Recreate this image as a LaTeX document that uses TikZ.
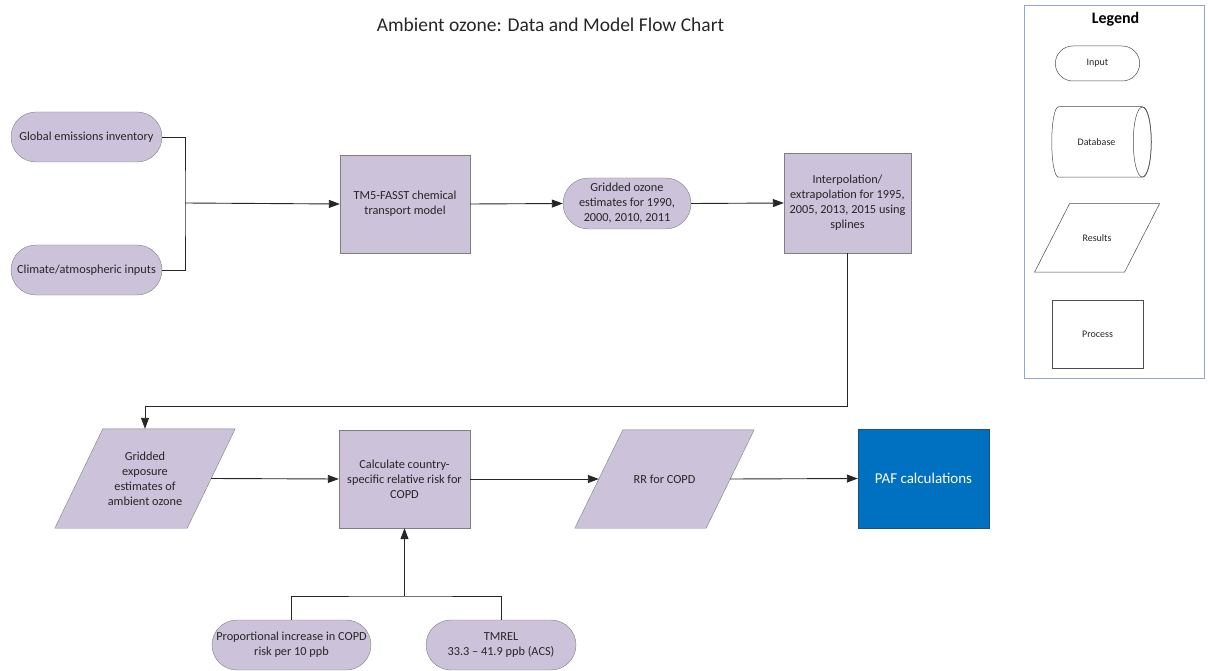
\documentclass[tikz,border=0pt]{standalone}
\usepackage{fontspec}
\setmainfont{Carlito}
\usepackage{xcolor}
\usepackage{tikz}
\usetikzlibrary{arrows.meta, shapes.misc, backgrounds}

\definecolor{lav}{HTML}{CCC2DA}
\definecolor{edge}{HTML}{7F7F7F}
\definecolor{txt}{HTML}{262626}
\definecolor{pafblue}{HTML}{0070C0}
\definecolor{pafedge}{HTML}{1F4E79}
\definecolor{legedge}{HTML}{8FA8C4}

\tikzset{
  box/.style={draw=edge, fill=lav, text=txt, align=center, inner sep=1pt, font=\fontsize{12.3}{15}\selectfont},
  inputbox/.style={box, rounded rectangle},
  procbox/.style={box, rectangle},
  restext/.style={text=txt, align=center, inner sep=1pt, font=\fontsize{12.3}{15}\selectfont},
  resshape/.style={draw=edge, fill=lav},
  legbox/.style={draw=black!70, fill=white, text=txt, line width=0.5pt, font=\fontsize{10}{12}\selectfont},
  legshape/.style={draw=black!70, fill=white, line width=0.5pt},
  flow/.style={draw=black!85, line width=0.9pt},
  arrow/.style={flow, -{Triangle[length=11pt, width=8pt]}}
}

\begin{document}
\begin{tikzpicture}[x=1pt, y=-1pt]
\useasboundingbox (0,0) rectangle (1208,671);

\node [font=\fontsize{19.5}{22}\selectfont, text=txt] (title) at (550.5,25) {Ambient ozone: Data and Model Flow Chart};

\node [inputbox, minimum width=153pt, minimum height=50pt] (glob) at (86.5,137) {Global emissions inventory};
\node [inputbox, minimum width=153pt, minimum height=50pt] (clim) at (86.5,270) {Climate/atmospheric inputs};
\node [procbox, minimum width=130pt, minimum height=98pt] (tm5) at (405,204) {TM5-FASST chemical\\transport model};
\node [inputbox, minimum width=130pt, minimum height=51pt] (ozone) at (627,203.5) {Gridded ozone\\estimates for 1990,\\2000, 2010, 2011};
\node [procbox, minimum width=127pt, minimum height=100pt] (interp) at (847.5,203) {Interpolation/\\extrapolation for 1995,\\2005, 2013, 2015 using\\splines};

\node [restext, minimum width=132pt, minimum height=99pt] (expo) at (145,478.5) {Gridded\\exposure\\estimates of\\ambient ozone};
\node [procbox, minimum width=131pt, minimum height=98pt] (calc) at (404.5,479) {Calculate country-\\specific relative risk for\\COPD};
\node [restext, minimum width=131pt, minimum height=98pt] (rr) at (664.5,479) {RR for COPD};
\node [procbox, draw=pafedge, fill=pafblue, text=white, font=\fontsize{15}{18}\selectfont, minimum width=131pt, minimum height=99pt] (paf) at (923.5,478.5) {PAF calculations};

\node [inputbox, minimum width=161pt, minimum height=50pt] (prop) at (291.5,645) {Proportional increase in COPD\\risk per 10 ppb};
\node [inputbox, minimum width=152pt, minimum height=50pt] (tmrel) at (501,645) {TMREL\\33.3 -- 41.9 ppb (ACS)};

\begin{scope}[on background layer]
\draw [resshape] ([xshift=24pt]expo.north west) -- ([xshift=24pt]expo.north east) -- ([xshift=-24pt]expo.south east) -- ([xshift=-24pt]expo.south west) -- cycle;
\draw [resshape] ([xshift=24pt]rr.north west) -- ([xshift=24pt]rr.north east) -- ([xshift=-24pt]rr.south east) -- ([xshift=-24pt]rr.south west) -- cycle;
\end{scope}

\coordinate (j1) at (185,203);
\coordinate (turn) at (847.5,406);
\coordinate (j2) at (404.5,596);

\draw [flow] (glob.east) -| (j1) |- (clim.east);
\draw [arrow] (j1) -- (tm5.west);
\draw [arrow] (tm5.east) -- (ozone.west);
\draw [arrow] (ozone.east) -- (interp.west);
\draw [arrow] (interp.south) -- (turn) -| (expo.north);
\draw [arrow] (expo.east) -- (calc.west);
\draw [arrow] (calc.east) -- (rr.west);
\draw [arrow] (rr.east) -- (paf.west);
\draw [flow] (prop.north) |- (j2) -| (tmrel.north);
\draw [arrow] (j2) -- (calc.south);

\node [draw=legedge, line width=0.8pt, minimum width=180pt, minimum height=373pt] (legend) at (1114,191.5) {};
\node [font=\fontsize{16}{18}\selectfont\bfseries, text=black] (legtitle) at (1115.5,19) {Legend};
\node [legbox, rounded rectangle, minimum width=91pt, minimum height=35pt] (leginput) at (1097.5,63.5) {Input};
\node [legbox, draw=none, fill=none, minimum width=83pt, minimum height=70pt] (legdb) at (1100.5,142) {Database\hspace*{8pt}};
\node [legbox, draw=none, fill=none, minimum width=89.5pt, minimum height=68pt] (legres) at (1097,238) {Results};
\begin{scope}[on background layer]
\draw [legshape] (legdb.south west) .. controls ([xshift=-9.3pt]legdb.south west) and ([xshift=-9.3pt]legdb.north west) .. (legdb.north west) -- (legdb.north east) .. controls ([xshift=12pt]legdb.north east) and ([xshift=12pt]legdb.south east) .. (legdb.south east) -- cycle;
\draw [legshape, fill=none] (legdb.east) ellipse [x radius=9pt, y radius=35pt];
\draw [legshape] ([xshift=17.5pt]legres.north west) -- ([xshift=17.5pt]legres.north east) -- ([xshift=-17.5pt]legres.south east) -- ([xshift=-17.5pt]legres.south west) -- cycle;
\end{scope}
\node [legbox, rectangle, minimum width=91pt, minimum height=68pt] (legproc) at (1097.5,334) {Process};
\end{tikzpicture}
\end{document}
